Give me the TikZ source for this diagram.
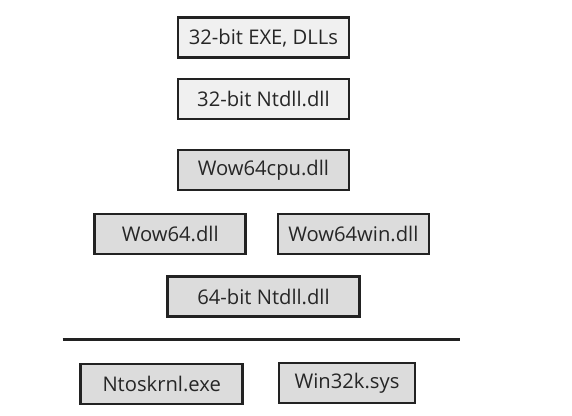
\documentclass[tikz,border=0pt]{standalone}
\usepackage{fontspec}
\setmainfont{Open Sans}
\definecolor{lightbox}{HTML}{F0F0F0}
\definecolor{darkbox}{HTML}{DCDCDC}
\definecolor{edge}{HTML}{222222}
\begin{document}
\begin{tikzpicture}[x=1pt,y=-1pt,
  box/.style={draw=edge,line width=2.5pt,inner sep=0pt,minimum height=40pt,font=\fontsize{20.2}{23}\selectfont,text=black!85},
  lbox/.style={box,fill=lightbox},
  dbox/.style={box,fill=darkbox}]
\useasboundingbox (0,0) rectangle (572,415);
\node[lbox,minimum width=171pt] (exe) at (263.4,37.7) {32-bit EXE, DLLs};
\node[lbox,minimum width=171pt] (ntdll32) at (263.4,99) {32-bit Ntdll.dll};
\node[dbox,minimum width=171pt] (cpu) at (263.4,170) {Wow64cpu.dll};
\node[dbox,minimum width=151pt] (wow) at (170.2,234) {Wow64.dll};
\node[dbox,minimum width=151pt] (win) at (353.3,234) {Wow64win.dll};
\node[dbox,minimum width=192pt] (ntdll64) at (263.5,296.5) {64-bit Ntdll.dll};
\coordinate (ll) at (62.7,339.3);
\coordinate (lr) at (460,339.3);
\draw[edge,line width=2.4pt] (ll) -- (lr);
\node[dbox,minimum width=162pt] (ntos) at (161.7,384) {Ntoskrnl.exe};
\node[dbox,minimum width=136pt] (w32k) at (347,383) {Win32k.sys};
\end{tikzpicture}
\end{document}
